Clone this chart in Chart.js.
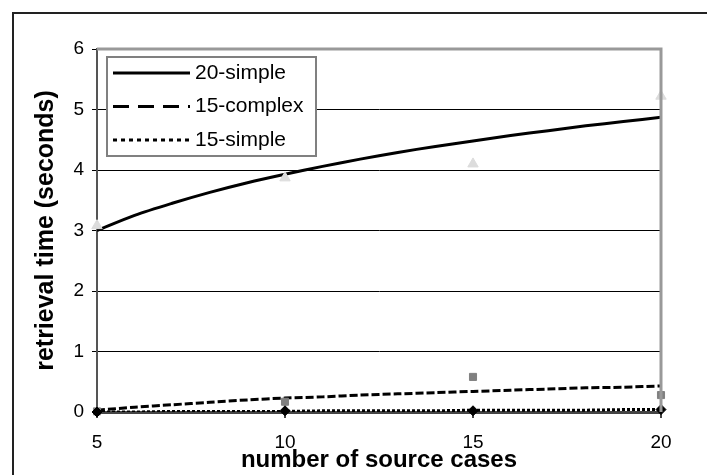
<!DOCTYPE html>
<html>
<head>
<meta charset="utf-8">
<script src="https://cdn.jsdelivr.net/npm/chart.js@4/dist/chart.umd.min.js"></script>
<style>
  body { margin: 0; background: #fff; }
  #wrap { width: 707px; height: 475px; }
</style>
</head>
<body>
<div id="wrap"><canvas id="c" width="707" height="475"></canvas></div>
<script>
'use strict';

// measured points
const sourceCases = [5, 10, 15, 20];
const simple20 = [3.08, 3.87, 4.10, 5.22];
const complex15 = [0.01, 0.17, 0.58, 0.28];
const simple15 = [0.0, 0.02, 0.02, 0.04];

// trend lines
const trendX = [5, 6, 7, 8, 9, 10, 11, 12, 13, 14, 15, 16, 17, 18, 19, 20];
const simple20Trend = [3.00, 3.25, 3.45, 3.63, 3.79, 3.93, 4.06, 4.18, 4.29, 4.39, 4.48, 4.57, 4.65, 4.73, 4.80, 4.87];
const complex15Trend = [0.03, 0.08, 0.12, 0.16, 0.20, 0.23, 0.25, 0.28, 0.30, 0.32, 0.34, 0.36, 0.38, 0.40, 0.41, 0.43];
const simple15Trend = [0.00, 0.00, 0.01, 0.01, 0.01, 0.01, 0.02, 0.02, 0.02, 0.02, 0.03, 0.03, 0.03, 0.03, 0.04, 0.04];

const legendNames = ['20-simple', '15-complex', '15-simple'];
const legendDash = [[], [16, 9], [4, 4]];

function pts(xs, ys) {
  return xs.map(function (x, i) { return { x: x, y: ys[i] }; });
}

const frame = {
  id: 'frame',
  beforeDraw: function (chart) {
    const ctx = chart.ctx;
    ctx.save();
    ctx.fillStyle = '#fff';
    ctx.fillRect(0, 0, chart.width, chart.height);
    ctx.strokeStyle = '#222';
    ctx.lineWidth = 2;
    ctx.beginPath();
    ctx.moveTo(13, chart.height);
    ctx.lineTo(13, 13);
    ctx.lineTo(chart.width, 13);
    ctx.stroke();
    ctx.restore();
  },
  afterDraw: function (chart) {
    const ctx = chart.ctx;
    const a = chart.chartArea;
    ctx.save();
    // top and right edge of plot area
    ctx.strokeStyle = '#999';
    ctx.lineWidth = 3;
    ctx.beginPath();
    ctx.moveTo(a.left, a.top);
    ctx.lineTo(a.right, a.top);
    ctx.lineTo(a.right, a.bottom);
    ctx.stroke();

    // legend box
    const bx = a.left + 10, by = a.top + 8, bw = 209, bh = 99;
    ctx.fillStyle = '#fff';
    ctx.fillRect(bx, by, bw, bh);
    ctx.strokeStyle = '#808080';
    ctx.lineWidth = 2;
    ctx.strokeRect(bx, by, bw, bh);
    ctx.font = '21px "Liberation Sans", Arial, sans-serif';
    ctx.textBaseline = 'middle';
    ctx.fillStyle = '#000';
    legendNames.forEach(function (name, i) {
      const yy = by + 16 + i * 33.5;
      ctx.strokeStyle = '#000';
      ctx.lineWidth = 3;
      ctx.setLineDash(legendDash[i]);
      ctx.beginPath();
      ctx.moveTo(bx + 6, yy);
      ctx.lineTo(bx + 83, yy);
      ctx.stroke();
      ctx.setLineDash([]);
      ctx.fillText(name, bx + 88, yy);
    });
    ctx.restore();
  }
};

new Chart(document.getElementById('c'), {
  type: 'scatter',
  data: {
    datasets: [
      {
        label: '15-simple pts',
        data: pts(sourceCases, simple15),
        pointStyle: 'rectRot',
        pointRadius: 5,
        backgroundColor: '#000',
        borderColor: '#000',
        showLine: false,
        clip: false
      },
      {
        label: '15-complex pts',
        data: pts(sourceCases, complex15),
        pointStyle: 'rect',
        pointRadius: 5,
        backgroundColor: '#808080',
        borderColor: '#808080',
        showLine: false,
        clip: false
      },
      {
        label: '20-simple pts',
        data: pts(sourceCases, simple20),
        pointStyle: 'triangle',
        pointRadius: 6,
        backgroundColor: '#dcdcdc',
        borderColor: '#dcdcdc',
        showLine: false,
        clip: false
      },
      {
        label: '20-simple',
        data: pts(trendX, simple20Trend),
        showLine: true,
        borderColor: '#000',
        borderWidth: 3,
        pointRadius: 0,
        tension: 0.3
      },
      {
        label: '15-complex',
        data: pts(trendX, complex15Trend),
        showLine: true,
        borderColor: '#000',
        borderWidth: 3,
        borderDash: [8, 3],
        pointRadius: 0,
        tension: 0.3
      },
      {
        label: '15-simple',
        data: pts(trendX, simple15Trend),
        showLine: true,
        borderColor: '#000',
        borderWidth: 3,
        borderDash: [3, 2],
        pointRadius: 0
      }
    ]
  },
  options: {
    responsive: false,
    animation: false,
    layout: { padding: { left: 0, right: 46, top: 49, bottom: 0 } },
    plugins: {
      legend: { display: false },
      tooltip: { enabled: false }
    },
    scales: {
      x: {
        type: 'linear',
        min: 5,
        max: 20,
        afterFit: function (s) { s.height = 63; },
        ticks: {
          stepSize: 5,
          padding: 13,
          color: '#000',
          font: { family: '"Liberation Sans", Arial, sans-serif', size: 19 }
        },
        grid: { drawOnChartArea: false, drawTicks: true, tickLength: 6, color: '#444', lineWidth: 2 },
        border: { color: '#444', width: 3 },
        title: {
          display: true,
          text: 'number of source cases',
          color: '#000',
          padding: { top: 0, bottom: 3 },
          font: { family: '"Liberation Sans", Arial, sans-serif', size: 24, weight: 'bold', lineHeight: 1 }
        }
      },
      y: {
        min: 0,
        max: 6,
        afterFit: function (s) { s.width = 97; },
        ticks: {
          stepSize: 1,
          padding: 8,
          color: '#000',
          font: { family: '"Liberation Sans", Arial, sans-serif', size: 19 }
        },
        grid: { color: '#000', lineWidth: 1, drawTicks: true, tickLength: 5 },
        border: { color: '#555', width: 2 },
        title: {
          display: true,
          text: 'retrieval time (seconds)',
          color: '#000',
          padding: { top: 34, bottom: 0 },
          font: { family: '"Liberation Sans", Arial, sans-serif', size: 25, weight: 'bold', lineHeight: 1 }
        }
      }
    }
  },
  plugins: [frame]
});
</script>
</body>
</html>
